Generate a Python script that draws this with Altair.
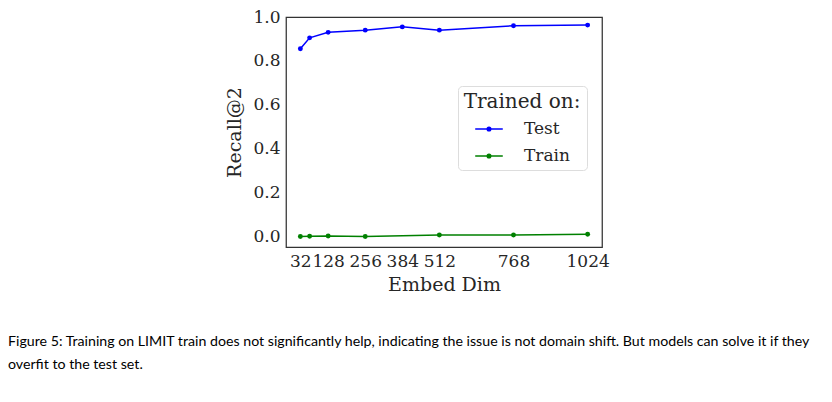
import altair as alt
import pandas as pd

dims_test = [32, 64, 128, 256, 384, 512, 768, 1024]
recall_test = [0.855, 0.905, 0.93, 0.94, 0.955, 0.94, 0.96, 0.963]
dims_train = [32, 64, 128, 256, 512, 768, 1024]
recall_train = [0.0, 0.001, 0.002, 0.0, 0.007, 0.007, 0.01]
series_names = ["Test", "Train"]
series_colors = ["#0000ff", "#008000"]
x_ticks = [32, 128, 256, 384, 512, 768, 1024]
y_ticks = [0.0, 0.2, 0.4, 0.6, 0.8, 1.0]
caption = [
    "Figure 5: Training on LIMIT train does not significantly help, indicating the issue is not domain shift. But models can solve it if they",
    "overfit to the test set.",
]

df = pd.concat([
    pd.DataFrame({"dim": dims_test, "recall": recall_test, "series": "Test"}),
    pd.DataFrame({"dim": dims_train, "recall": recall_train, "series": "Train"}),
])

serif = "DejaVu Serif"

x = alt.X(
    "dim:Q",
    scale=alt.Scale(domain=[-17.6, 1073.6], nice=False, zero=False),
    axis=alt.Axis(values=x_ticks, labelOverlap=False, title="Embed Dim", format="d",
                  labelFlush=False),
)
y = alt.Y(
    "recall:Q",
    scale=alt.Scale(domain=[-0.048, 1.0], nice=False, zero=False),
    axis=alt.Axis(values=y_ticks, format=".1f", title="Recall@2", labelFlush=False),
)
legend_path = "M-1,0L1,0M-0.13,0A0.13,0.13 0 1,0 0.13,0A0.13,0.13 0 1,0 -0.13,0Z"
color = alt.Color(
    "series:N",
    scale=alt.Scale(domain=series_names, range=series_colors),
    legend=alt.Legend(
        title="Trained on:", orient="none", legendX=172, legendY=69,
        symbolType=legend_path, symbolSize=760, symbolStrokeWidth=1.5,
        titleFont=serif, titleFontSize=20, titleFontWeight="normal", titleColor="#262626",
        labelFont=serif, labelFontSize=17, labelColor="#262626",
        padding=6, strokeColor="#dddddd", fillColor="white", cornerRadius=4,
        rowPadding=4, titleAnchor="middle", titlePadding=2, labelOffset=20,
    ),
)

base = alt.Chart(df).encode(x=x, y=y, color=color)
lines = base.mark_line(strokeWidth=1.5)
points = base.mark_point(filled=True, size=24, opacity=1)

chart = (
    alt.layer(lines, points)
    .properties(
        width=316,
        height=230,
        autosize=alt.AutoSizeParams(type="none"),
        padding={"left": 278, "top": 9, "right": 222, "bottom": 140},
        title=alt.TitleParams(
            text=caption, orient="bottom", anchor="start", frame="group",
            font="Lato", fontSize=14.2, fontWeight="normal", color="black",
            dx=-278, offset=41, lineHeight=23,
        ),
    )
    .configure_view(stroke="#333333", strokeWidth=1.25)
    .configure_axis(
        domain=False, ticks=False, grid=False,
        labelFont=serif, labelFontSize=17, labelColor="#262626", labelPadding=6,
        titleFont=serif, titleFontSize=19, titleFontWeight="normal", titleColor="#262626",
    )
    .configure_axisX(titlePadding=6)
    .configure_axisY(titlePadding=8)
)

chart.save("out.html", embed_options={"renderer": "svg", "actions": False})
